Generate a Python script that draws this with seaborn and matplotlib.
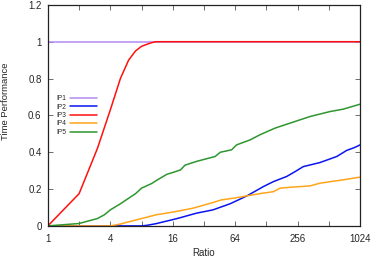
import numpy as np
import pandas as pd
import matplotlib
matplotlib.use("Agg")
import matplotlib.pyplot as plt
import seaborn as sns
from matplotlib.ticker import FixedLocator, FuncFormatter, NullLocator

# performance profile data
ip1_ratio = [1, 1024]
ip1_perf = [1.0, 1.0]

ip2_ratio = [1, 8, 9, 11, 13, 16, 19, 27, 39, 57, 83, 120, 150, 200, 242, 290,
             420, 610, 760, 900, 1024]
ip2_perf = [0.0, 0.0, 0.003, 0.012, 0.022, 0.034, 0.045, 0.069, 0.087, 0.12,
            0.163, 0.214, 0.241, 0.268, 0.295, 0.322, 0.344, 0.377, 0.41,
            0.425, 0.44]

ip3_ratio = [1, 2, 3, 4, 5, 6, 7, 8, 9, 10, 11, 1024]
ip3_perf = [0.0, 0.175, 0.42, 0.63, 0.80, 0.90, 0.95, 0.975, 0.986, 0.995,
            1.0, 1.0]

ip4_ratio = [1, 4, 5, 6, 8, 11, 16, 19, 25, 39, 47, 64, 83, 110, 150, 173,
             220, 336, 420, 526, 700, 1024]
ip4_perf = [0.0, 0.0, 0.01, 0.022, 0.04, 0.06, 0.075, 0.083, 0.096, 0.127,
            0.141, 0.152, 0.163, 0.175, 0.186, 0.205, 0.21, 0.217, 0.232,
            0.24, 0.25, 0.265]

ip5_ratio = [1, 2, 3, 3.5, 4, 5, 6, 7, 8, 10, 11, 14, 16, 19, 21, 27, 41, 46,
             59, 66, 89, 111, 155, 173, 216, 337, 526, 705, 1024]
ip5_perf = [0.0, 0.013, 0.04, 0.06, 0.087, 0.12, 0.15, 0.175, 0.205, 0.23,
            0.245, 0.28, 0.29, 0.304, 0.33, 0.35, 0.377, 0.40, 0.413, 0.44,
            0.467, 0.495, 0.531, 0.54, 0.558, 0.594, 0.621, 0.634, 0.661]

solvers = ["IP1", "IP2", "IP3", "IP4", "IP5"]
colors = ["#b48cf2", "#0a14f0", "#ff1010", "#ffa51a", "#2f962f"]

ratios = [ip1_ratio, ip2_ratio, ip3_ratio, ip4_ratio, ip5_ratio]
perfs = [ip1_perf, ip2_perf, ip3_perf, ip4_perf, ip5_perf]

frames = []
for name, r, p in zip(solvers, ratios, perfs):
    frames.append(pd.DataFrame({"Ratio": r, "Performance": p, "Solver": name}))
df = pd.concat(frames, ignore_index=True)

sns.set_style("ticks")
plt.rcParams["font.family"] = ["Liberation Sans", "DejaVu Sans"]

fig = plt.figure(figsize=(3.74, 2.57), dpi=100)
ax = fig.add_axes([0.128, 0.121, 0.835, 0.860])

sns.lineplot(data=df, x="Ratio", y="Performance", hue="Solver",
             palette=dict(zip(solvers, colors)), linewidth=1.1,
             estimator=None, sort=False, ax=ax)

ax.set_xscale("log", base=2)
ax.set_xlim(1, 1024)
ax.set_ylim(0, 1.2)

ax.xaxis.set_major_locator(FixedLocator([2 ** i for i in range(11)]))
ax.xaxis.set_minor_locator(NullLocator())
ax.xaxis.set_major_formatter(FuncFormatter(
    lambda v, pos: f"{int(round(v))}" if int(round(np.log2(v))) % 2 == 0 else ""))
ax.set_yticks([0, 0.2, 0.4, 0.6, 0.8, 1.0, 1.2])
ax.yaxis.set_major_formatter(FuncFormatter(lambda v, pos: f"{v:g}"))

ax.tick_params(which="both", direction="in", top=True, right=True,
               length=3.5, width=0.6, color="#555555", labelsize=7)
ax.tick_params(axis="x", pad=6)
ax.tick_params(axis="y", pad=4.5)
for s in ax.spines.values():
    s.set_linewidth(0.9)
    s.set_color("#222222")

ax.set_xlabel("Ratio", fontsize=7, labelpad=3)
ax.set_ylabel("Time Performance", fontsize=6.8)
ax.yaxis.set_label_coords(-0.122, 0.566)

ax.legend(loc="upper left", bbox_to_anchor=(0.026, 0.592), frameon=False,
          markerfirst=False, fontsize=4.8, handlelength=4.0,
          handletextpad=0.6, labelspacing=0.22, borderpad=0,
          borderaxespad=0, title=None)

fig.savefig("out.png", dpi=100)
